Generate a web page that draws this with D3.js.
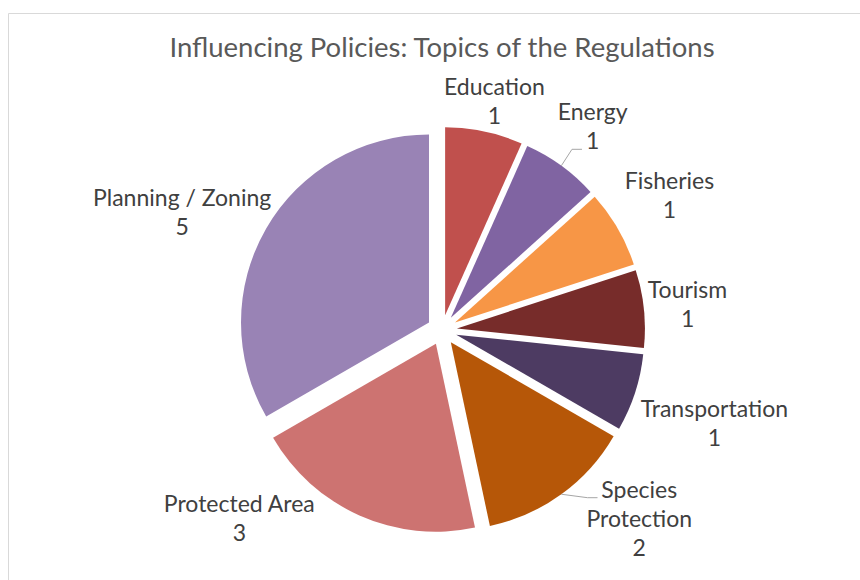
<!DOCTYPE html>
<html><head><meta charset="utf-8">
<script src="https://cdn.jsdelivr.net/npm/d3@7"></script>
<style>body{margin:0;background:#fff;} svg{display:block;font-family:Lato,"Open Sans",sans-serif;}</style>
</head><body><svg id="c" width="860" height="580"></svg>
<script>
// ---- data ----
const categories = ["Education","Energy","Fisheries","Tourism","Transportation","Species Protection","Protected Area","Planning / Zoning"];
const values = [1,1,1,1,1,2,3,5];
const labelLines = [["Education"],["Energy"],["Fisheries"],["Tourism"],["Transportation"],["Species","Protection"],["Protected Area"],["Planning / Zoning"]];
const colors = ["#C0504D","#8064A2","#F79646","#772C2A","#4D3B62","#B65708","#CD7371","#9983B5"];
const titleText = "Influencing Policies: Topics of the Regulations";
// manual label adjustments (as in the source chart), in px
const labelNudge = [[-4,0],[2,-10],[0,-7],[-4,2.5],[-2,16.5],[36,-17],[-80,-25],[12,10.5]];
const hasLeader = [false,true,false,false,false,true,false,false];

// ---- layout ----
const W = 860, H = 580;
const cx = 442, cy = 330, R = 188, explode = 15;
const labelFont = 23, lineH = 29, capH = 14;

const svg = d3.select("#c");
svg.append("rect").attr("width",W).attr("height",H).attr("fill","#fff");
svg.append("path").attr("d",`M8.5,${H} V13.5 H${W}`).attr("fill","none").attr("stroke","#d9d9d9").attr("stroke-width",1);

svg.append("text").attr("x",cx).attr("y",57)
  .attr("text-anchor","middle").attr("font-size",27.5).attr("fill","#595959").text(titleText);

const data = categories.map((c,i)=>({cat:c, value:values[i], i}));
const pie = d3.pie().value(d=>d.value).sort(null).startAngle(0).endAngle(2*Math.PI);
const arcs = pie(data);
const arc = d3.arc().innerRadius(0).outerRadius(R);

const g = svg.append("g").attr("transform",`translate(${cx},${cy})`);
arcs.forEach(a=>{
  const m = (a.startAngle+a.endAngle)/2;
  const dx = Math.sin(m)*explode, dy = -Math.cos(m)*explode;
  g.append("path").attr("d",arc(a)).attr("transform",`translate(${dx},${dy})`)
   .attr("fill",colors[a.data.i]);
});

const clamp = v=>Math.max(-1,Math.min(1,v));
const lg = svg.append("g").attr("font-size",labelFont).attr("fill","#404040").attr("text-anchor","middle");
arcs.forEach(a=>{
  const i = a.data.i;
  const m = (a.startAngle+a.endAngle)/2;
  const ux = Math.sin(m), uy = -Math.cos(m);
  const lines = labelLines[i].concat([String(a.data.value)]);
  const t = lg.append("text");
  const spans = lines.map(s=>t.append("tspan").text(s));
  const widths = spans.map(s=>s.node().getComputedTextLength());
  const w = d3.max(widths);
  const h = capH + lineH*(lines.length-1);
  const px = cx + ux*(R+explode+8), py = cy + uy*(R+explode+8);
  const lx = px + w/2*clamp(ux*1.2) + labelNudge[i][0];
  const ly = py + h/2*clamp(uy*2) + labelNudge[i][1];
  const b0 = ly - h/2 + capH;
  spans.forEach((s,k)=>s.attr("x",lx).attr("y",b0+k*lineH));
  if(hasLeader[i]){
    const sx = cx + ux*(R+explode), sy = cy + uy*(R+explode);
    let best=0, bd=1e9;
    lines.forEach((s,k)=>{const d=Math.abs(b0+k*lineH-sy); if(d<bd){bd=d;best=k;}});
    const ey = b0+best*lineH, ex = lx - widths[best]/2 - 4;
    svg.append("polyline").attr("points",`${sx},${sy} ${ex-10},${ey} ${ex},${ey}`)
      .attr("fill","none").attr("stroke","#a6a6a6").attr("stroke-width",1);
  }
});
</script></body></html>
